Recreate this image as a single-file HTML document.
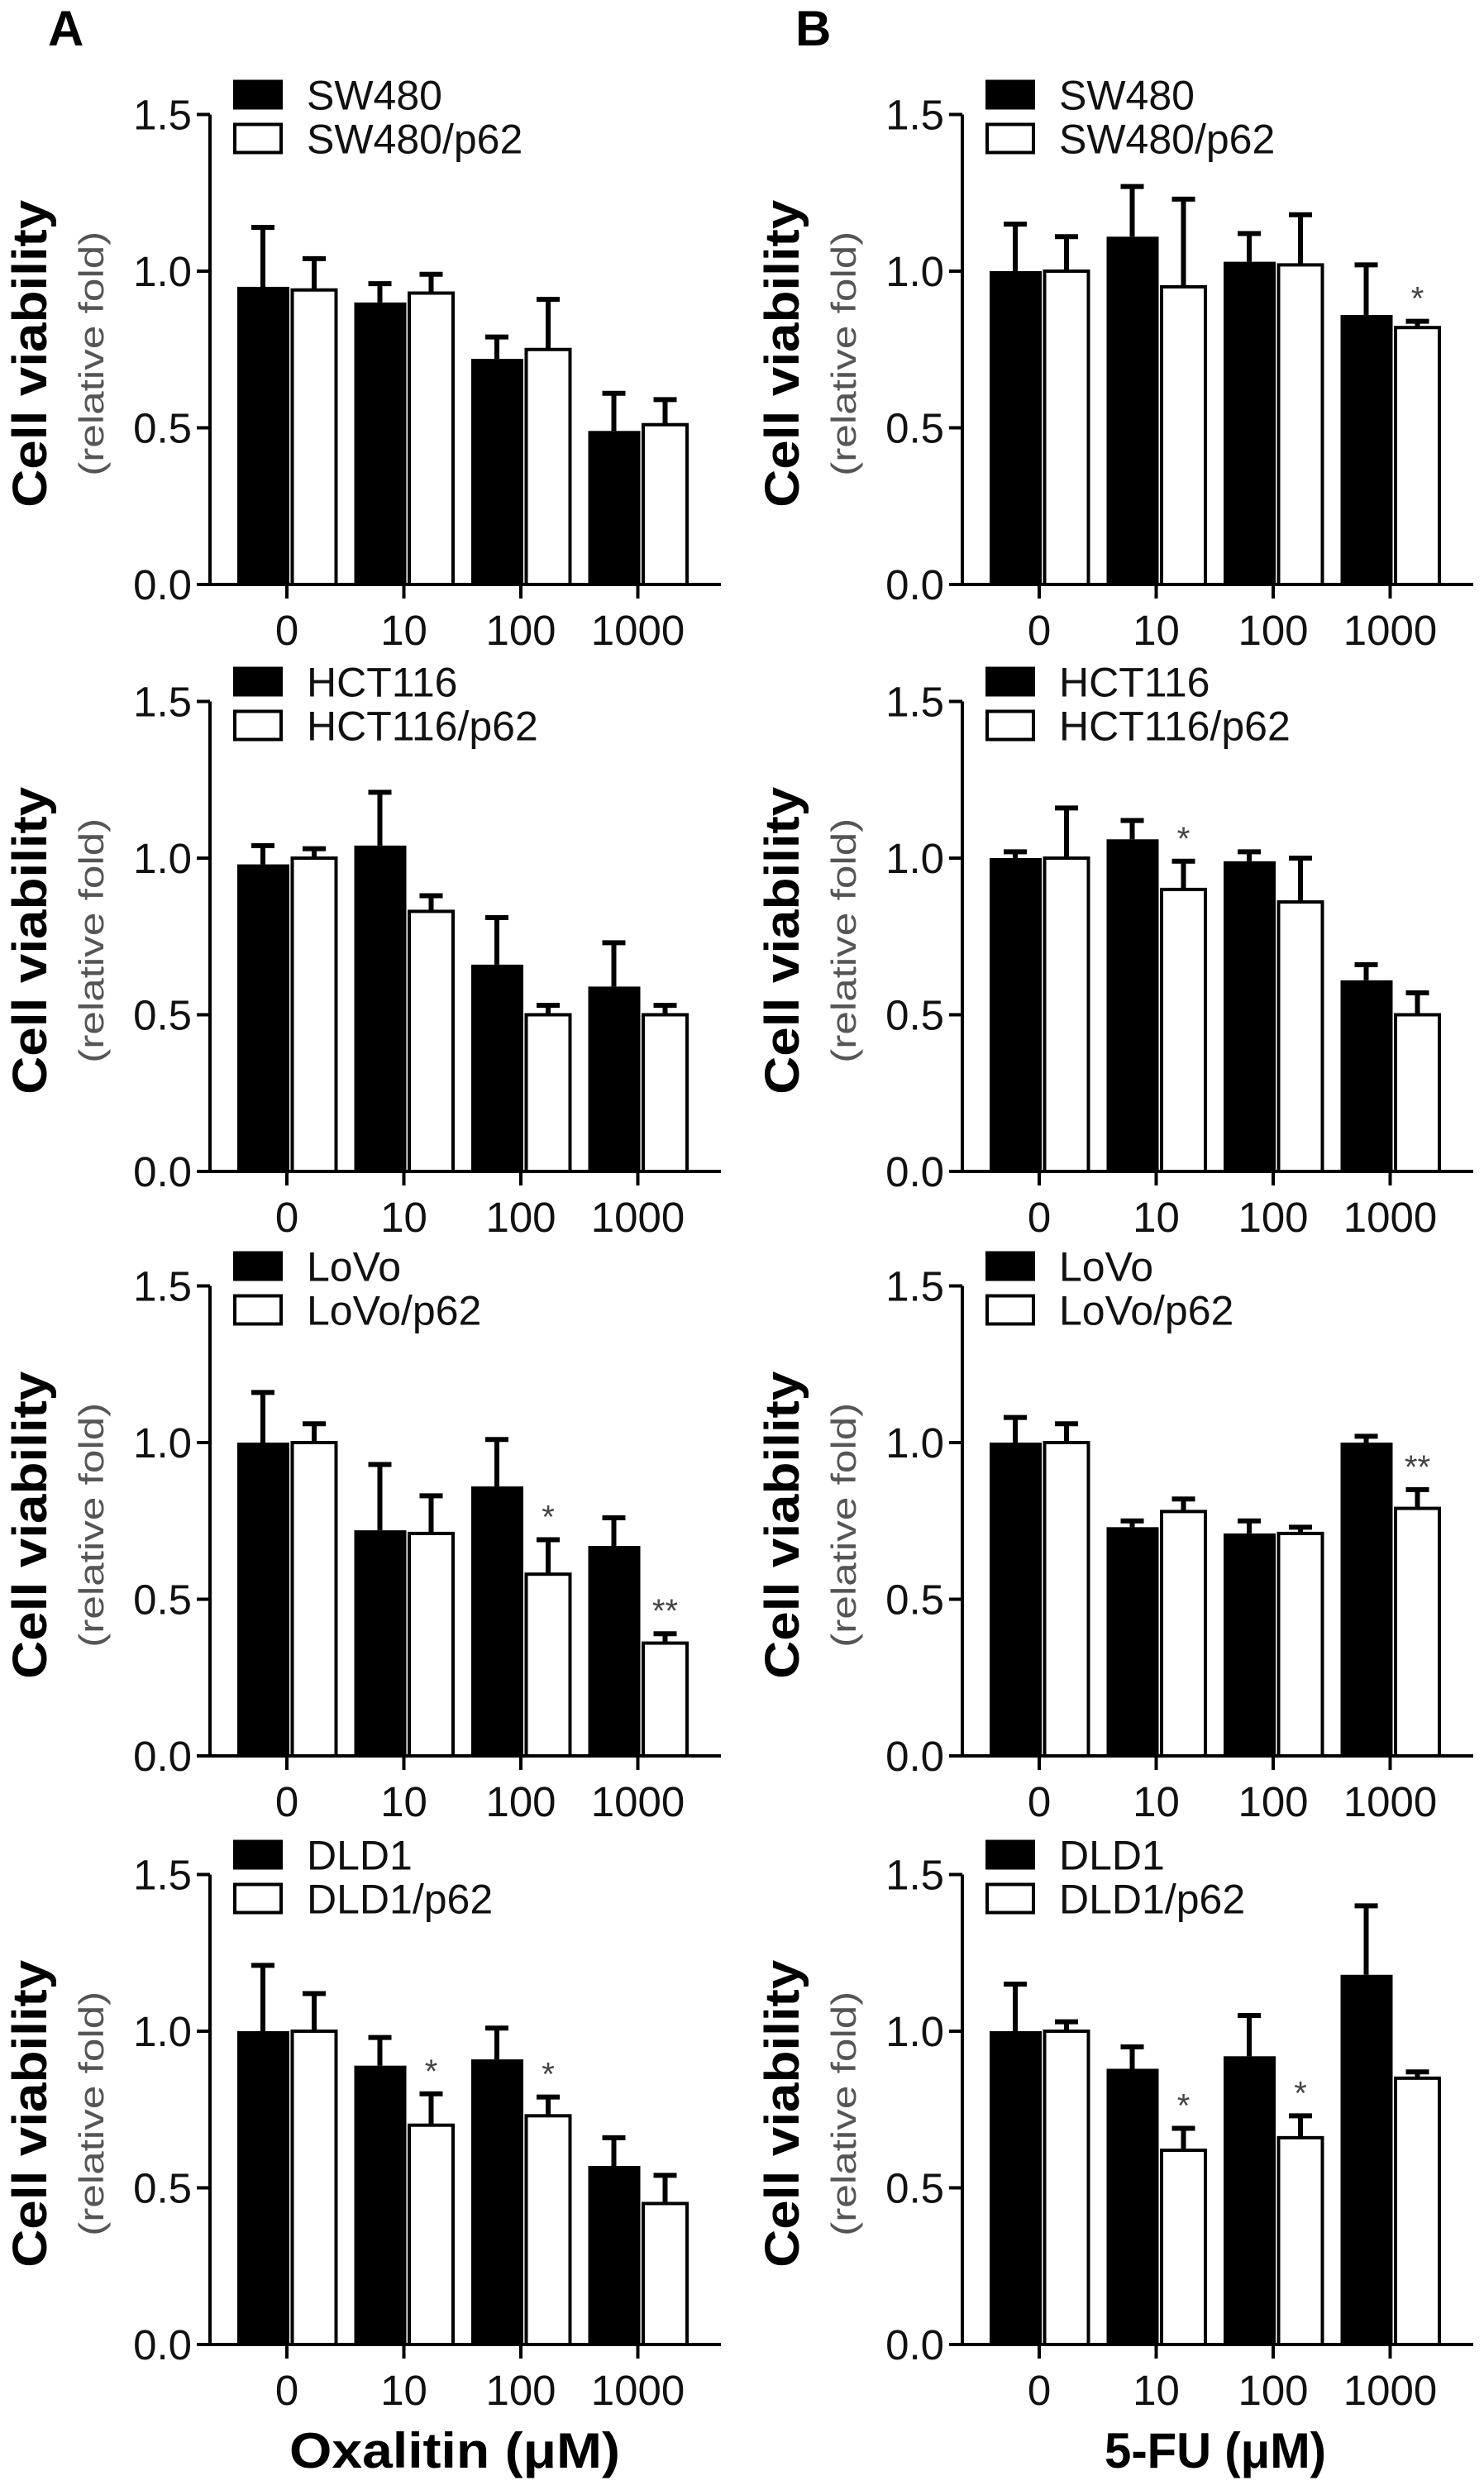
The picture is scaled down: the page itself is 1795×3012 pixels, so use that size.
<!DOCTYPE html>
<html><head><meta charset="utf-8"><style>
html,body{margin:0;padding:0;background:#fff}
svg{display:block}
text{font-family:"Liberation Sans",Arial,sans-serif}
</style></head><body>
<svg id="fig" width="1795" height="3012" viewBox="0 0 1795 3012" xmlns="http://www.w3.org/2000/svg">
<text x="58" y="55" font-size="60" font-weight="bold">A</text>
<text x="962" y="55" font-size="60" font-weight="bold">B</text>
<text x="550" y="2985" font-size="60" font-weight="bold" text-anchor="middle" textLength="400" lengthAdjust="spacingAndGlyphs">Oxalitin (μM)</text>
<text x="1470" y="2985" font-size="60" font-weight="bold" text-anchor="middle" textLength="268" lengthAdjust="spacingAndGlyphs">5-FU (μM)</text>
</svg>
<script>
const categories = ["0","10","100","1000"];
const yTicks = [0.0,0.5,1.0,1.5];
const yTickLabels = ["0.0","0.5","1.0","1.5"];
const cellLines = ["SW480","HCT116","LoVo","DLD1"];
// Column A (Oxalitin)
const aParentMean = [[0.95,0.90,0.72,0.49],[0.98,1.04,0.66,0.59],[1.00,0.72,0.86,0.67],[1.00,0.89,0.91,0.57]];
const aParentTop  = [[1.14,0.96,0.79,0.61],[1.04,1.21,0.81,0.73],[1.16,0.93,1.01,0.76],[1.21,0.98,1.01,0.66]];
const aP62Mean    = [[0.94,0.93,0.75,0.51],[1.00,0.83,0.50,0.50],[1.00,0.71,0.58,0.36],[1.00,0.70,0.73,0.45]];
const aP62Top     = [[1.04,0.99,0.91,0.59],[1.03,0.88,0.53,0.53],[1.06,0.83,0.69,0.39],[1.12,0.80,0.79,0.54]];
const aStars      = [["","","",""],["","","",""],["","","*","**"],["","*","*",""]];
// Column B (5-FU)
const bParentMean = [[1.00,1.11,1.03,0.86],[1.00,1.06,0.99,0.61],[1.00,0.73,0.71,1.00],[1.00,0.88,0.92,1.18]];
const bParentTop  = [[1.15,1.27,1.12,1.02],[1.02,1.12,1.02,0.66],[1.08,0.75,0.75,1.02],[1.15,0.95,1.05,1.40]];
const bP62Mean    = [[1.00,0.95,1.02,0.82],[1.00,0.90,0.86,0.50],[1.00,0.78,0.71,0.79],[1.00,0.62,0.66,0.85]];
const bP62Top     = [[1.11,1.23,1.18,0.84],[1.16,0.99,1.00,0.57],[1.06,0.82,0.73,0.85],[1.03,0.69,0.73,0.87]];
const bStars      = [["","","","*"],["","*","",""],["","","","**"],["","*","*",""]];

const NS="http://www.w3.org/2000/svg";
const svg=document.getElementById('fig');
const rowBase=[707,1417,2124,2836];
const unit=379;
const cols=[{axis:254,right:872,lab1:42,lab2:106},{axis:1164,right:1782,lab1:952,lab2:1016}];
function mk(tag,attrs,parent){const e=document.createElementNS(NS,tag);for(const k in attrs)e.setAttribute(k,attrs[k]);(parent||svg).appendChild(e);return e;}

function panel(ci,ri,pm,pt,wm,wt,st){
  const c=cols[ci],y0=rowBase[ri];
  const yS=v=>y0-v*unit;
  const xS=i=>c.axis+93+i*141.5;
  const g=mk('g',{});
  
  
  // bars
  categories.forEach((cat,i)=>{
    const x=xS(i);
    const bb=mk('rect',{x:x-60,y:yS(pm[i]),width:63,height:pm[i]*unit,fill:'#000'},g);
    
    
    const eb=mk('path',{d:`M${x-29},${yS(pm[i])}V${yS(pt[i])}M${x-43},${yS(pt[i])}H${x-15}`,stroke:'#000','stroke-width':6,fill:'none'},g);
    
    
    const wb=mk('rect',{x:x+6.5,y:yS(wm[i]),width:53,height:wm[i]*unit,fill:'#fff',stroke:'#000','stroke-width':4},g);
    
    
    const ew=mk('path',{d:`M${x+33},${yS(wm[i])}V${yS(wt[i])}M${x+19},${yS(wt[i])}H${x+47}`,stroke:'#000','stroke-width':6,fill:'none'},g);
    
    
    if(st[i]){
      const s=mk('text',{x:x+33,y:yS(wt[i])-14,'font-size':40,fill:'#444','text-anchor':'middle'},g);
      s.textContent=st[i];
      
      
    }
    const tk=mk('line',{x1:x,x2:x,y1:y0,y2:y0+17,stroke:'#000','stroke-width':4},g);
    
    
    const tl=mk('text',{x:x,y:y0+73,'font-size':51,'text-anchor':'middle',fill:'#111'},g);
    tl.textContent=cat;
    
    
  });
  // axes
  const ax=mk('path',{d:`M${c.axis},${yS(1.5)}V${y0}H${c.right}`,stroke:'#000','stroke-width':4,fill:'none'},g);
  
  
  yTicks.forEach((v,k)=>{
    const t=mk('line',{x1:c.axis-16,x2:c.axis,y1:yS(v),y2:yS(v),stroke:'#000','stroke-width':4},g);
    
    
    const l=mk('text',{x:c.axis-22,y:yS(v)+18,'font-size':51,'text-anchor':'end',fill:'#111'},g);
    l.textContent=yTickLabels[k];
    
    
  });
  const mid=y0-0.75*unit+5;
  const t1=mk('text',{x:0,y:0,'font-size':58,'font-weight':'bold','text-anchor':'middle',transform:`translate(${c.lab1+14},${mid}) rotate(-90)`,textLength:372,lengthAdjust:'spacingAndGlyphs'},g);
  t1.textContent='Cell viability';
  
  
  const t2=mk('text',{x:0,y:0,'font-size':42,fill:'#555','text-anchor':'middle',transform:`translate(${c.lab2+19},${mid}) rotate(-90)`,textLength:296,lengthAdjust:'spacingAndGlyphs'},g);
  t2.textContent='(relative fold)';
  
  
  // legend
  const ly=yS(1.5);
  const lb1=mk('rect',{x:c.axis+28,y:ly-42,width:60,height:36,fill:'#000'},g);
  
  
  const lb2=mk('rect',{x:c.axis+30,y:ly+12,width:56,height:34,fill:'#fff',stroke:'#000','stroke-width':4},g);
  
  
  const lt1=mk('text',{x:c.axis+117,y:ly-6,'font-size':50,fill:'#111'},g);
  lt1.textContent=cellLines[ri];
  
  
  const lt2=mk('text',{x:c.axis+117,y:ly+47,'font-size':50,fill:'#111'},g);
  lt2.textContent=cellLines[ri]+'/p62';
  
  
}
for(let r=0;r<4;r++){
  panel(0,r,aParentMean[r],aParentTop[r],aP62Mean[r],aP62Top[r],aStars[r]);
  panel(1,r,bParentMean[r],bParentTop[r],bP62Mean[r],bP62Top[r],bStars[r]);
}
</script>
</body></html>
